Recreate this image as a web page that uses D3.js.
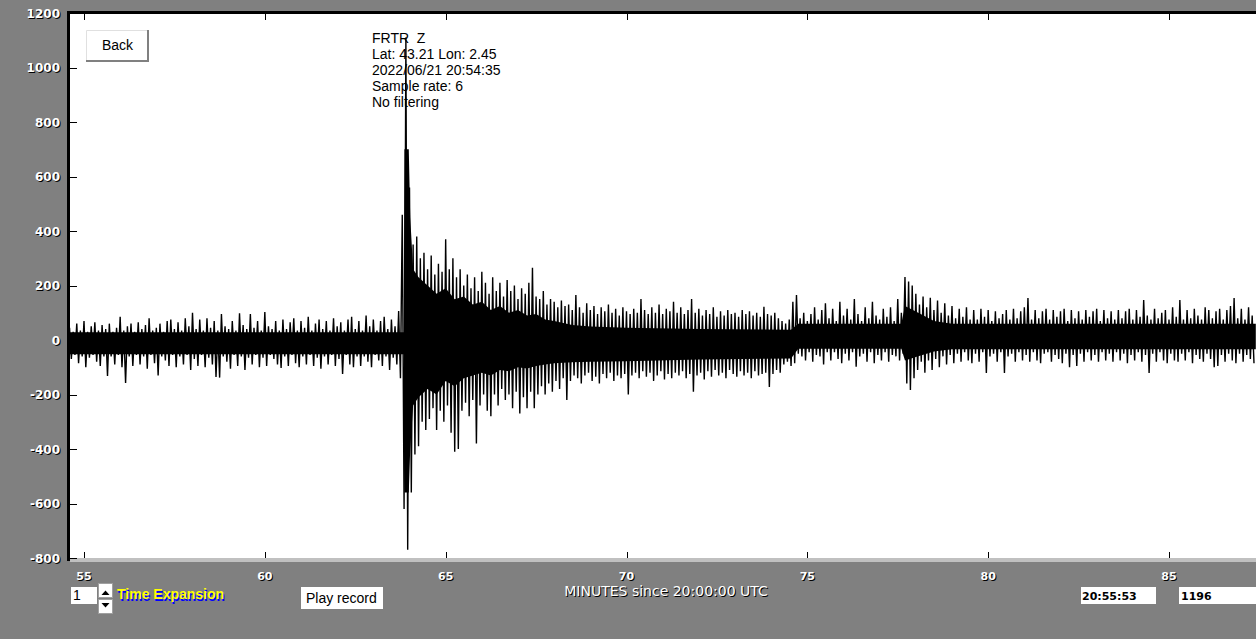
<!DOCTYPE html>
<html><head><meta charset="utf-8">
<script src="https://cdn.jsdelivr.net/npm/d3@7"></script>
<style>
html,body{margin:0;padding:0;background:#808080;overflow:hidden}
svg{display:block}
text{white-space:pre}
</style></head><body>
<svg id="c" width="1256" height="639"></svg>
<script>
// ---- data ----
const yTickValues = [-800,-600,-400,-200,0,200,400,600,800,1000,1200];
const xTickValues = [55,60,65,70,75,80,85];
const xAxisTitle = "MINUTES since 20:00:00 UTC";
const stationInfo = ["FRTR  Z","Lat: 43.21 Lon: 2.45","2022/06/21 20:54:35","Sample rate: 6","No filtering"];
const timeExpansionValue = "1";
const clockText = "20:55:53";
const counterText = "1196";
const traceStartMinute = 54.6;   // minutes since 20:00:00 of the first bin
const binMinutes = 0.1;          // width of each peak bin
// per-bin positive peaks (counts)
const peakHigh = [
 45,30,60,35,70,30,50,65,35,55,
 40,60,30,45,85,35,50,60,30,65,
 40,55,80,35,45,60,30,70,75,40,
 65,35,80,50,100,40,75,35,80,45,
 70,35,95,50,40,70,35,98,55,40,
 95,45,70,35,103,50,40,70,35,75,
 40,65,80,35,70,45,85,35,60,75,
 40,70,35,80,50,65,35,75,85,40,
 70,35,90,50,75,35,70,85,40,75,
 50,106,460,1110,560,350,380,300,320,260,
 310,240,280,250,370,260,300,230,260,200,
 240,190,230,180,250,210,170,230,180,210,
 160,220,180,200,150,190,170,210,265,160,
 150,180,130,150,140,120,145,125,130,110,
 165,120,100,135,110,125,95,120,105,130,
 100,115,90,120,105,95,115,100,150,110,
 95,120,100,130,95,115,105,140,100,120,
 95,110,150,100,115,90,110,95,120,85,
 105,90,110,95,100,85,110,95,105,90,
 100,85,122,95,90,100,80,70,60,75,
 140,165,80,100,70,95,120,75,110,135,
 80,115,70,140,90,115,75,150,95,70,
 120,80,140,90,75,115,85,120,70,150,
 100,231,215,200,170,130,160,120,155,110,
 145,100,135,90,125,80,115,85,120,75,
 110,75,115,85,110,70,105,80,95,110,
 75,115,80,105,120,154,75,110,80,105,
 115,75,110,85,105,115,70,110,80,105,
 75,110,85,105,115,70,110,80,105,75,
 110,80,105,115,75,110,85,147,90,75,
 115,80,100,110,75,120,85,147,75,110,
 80,115,90,75,120,110,80,105,115,75,
 110,125,154,80,115,75,120,90
];
// per-bin negative peaks (counts)
const peakLow = [
 -70,-55,-85,-60,-100,-65,-55,-80,-95,-60,
 -132,-60,-90,-55,-100,-158,-60,-95,-55,-90,
 -60,-105,-55,-85,-130,-60,-75,-95,-55,-100,
 -60,-90,-55,-110,-70,-95,-55,-100,-65,-90,
 -136,-138,-60,-80,-105,-55,-95,-60,-110,-65,
 -90,-55,-100,-65,-95,-55,-70,-90,-103,-60,
 -95,-55,-85,-100,-60,-90,-55,-95,-65,-105,
 -60,-90,-55,-95,-70,-125,-55,-90,-100,-60,
 -95,-60,-80,-100,-55,-75,-95,-60,-110,-65,
 -90,-140,-620,-770,-560,-420,-390,-300,-330,-290,
 -250,-330,-260,-300,-240,-340,-410,-400,-260,-230,
 -280,-220,-380,-240,-200,-260,-280,-200,-240,-180,
 -220,-200,-250,-190,-270,-210,-250,-190,-250,-200,
 -170,-200,-160,-190,-150,-180,-140,-220,-150,-130,
 -140,-160,-130,-120,-150,-135,-160,-125,-140,-120,
 -150,-130,-140,-125,-200,-130,-120,-140,-115,-135,
 -120,-150,-130,-115,-145,-125,-140,-120,-130,-115,
 -140,-125,-190,-130,-120,-145,-115,-135,-110,-130,
 -120,-140,-110,-125,-135,-115,-130,-120,-140,-115,
 -130,-125,-120,-172,-125,-110,-120,-90,-80,-95,
 -85,-50,-60,-75,-45,-80,-55,-60,-90,-45,
 -75,-45,-70,-85,-50,-75,-45,-98,-60,-50,
 -80,-45,-85,-55,-75,-45,-80,-55,-60,-75,
 -50,-160,-183,-140,-110,-80,-120,-75,-110,-70,
 -100,-60,-90,-55,-85,-50,-80,-45,-75,-85,
 -50,-80,-45,-121,-60,-50,-80,-45,-121,-60,
 -50,-80,-45,-75,-55,-80,-45,-75,-85,-50,
 -45,-80,-55,-70,-85,-50,-100,-55,-95,-50,
 -80,-45,-75,-55,-80,-45,-75,-50,-80,-45,
 -75,-50,-85,-55,-75,-45,-80,-55,-121,-50,
 -80,-45,-75,-85,-50,-75,-80,-50,-75,-45,
 -85,-55,-70,-80,-50,-70,-100,-95,-55,-80,
 -50,-75,-85,-50,-80,-55,-70,-85
];
// solid (saturated) body of the trace, read at a few times
const coreMinutes = [54.6, 63.84, 63.86, 63.98, 64.02, 64.1, 64.25, 64.5, 64.75, 65.0, 65.25, 65.5, 65.75, 66.0, 66.25, 66.5, 66.75, 67.0, 67.25, 67.5, 67.75, 68.0, 68.5, 69.0, 70.0, 72.0, 74.55, 74.75, 77.6, 77.7, 78.0, 78.5, 79.0, 87.4];
const coreHigh    = [28,   28,    700,   700,   450,   260,  230,   200,  170,   190,  150,   160,  130,   140,  110,   125,  100,   110,  90,    95,   75,    70,   55,   50,   45,   40,   38,    60,    60,   125,  105,  70,   60,   60];
const coreLow     = [-52,  -52,   -560,  -560,  -400,  -240, -210,  -180, -200,  -150, -170,  -140, -130,  -120, -130,  -110, -115,  -100, -105,  -95,  -90,   -85,  -82,  -80,  -78,  -72,  -68,   -32,   -32,  -75,  -62,  -42,  -34,  -34];

// ---- drawing ----
const svg = d3.select("#c");
const W = 1256, H = 639;
const plot = {left:70, top:14, right:1256, bottom:558};

const x = d3.scaleLinear().domain([55,85]).range([84,1169]);
const y = d3.scaleLinear().domain([-800,1200]).range([558,13]);

svg.append("rect").attr("width",W).attr("height",H).attr("fill","#808080");

// plot frame
svg.append("rect").attr("x",plot.left).attr("y",plot.top)
  .attr("width",plot.right-plot.left).attr("height",plot.bottom-plot.top).attr("fill","#ffffff");
svg.append("rect").attr("x",67).attr("y",11).attr("width",W-67).attr("height",3).attr("fill","#000");
svg.append("rect").attr("x",67).attr("y",11).attr("width",3).attr("height",550).attr("fill","#000");
svg.append("rect").attr("x",70).attr("y",558).attr("width",W-70).attr("height",4).attr("fill","#c0c0c0");

svg.append("defs").append("clipPath").attr("id","clip").append("rect")
  .attr("x",plot.left).attr("y",plot.top).attr("width",plot.right-plot.left).attr("height",plot.bottom-plot.top);

// ticks via d3 axes
function styleAxis(g){
  g.select(".domain").remove();
  g.selectAll(".tick line").attr("stroke","#000").attr("shape-rendering","crispEdges");
  g.selectAll(".tick text").remove();
}
svg.append("g").attr("transform",`translate(${plot.left},0)`)
  .call(d3.axisLeft(y).tickValues(yTickValues).tickSize(-7).tickFormat("")).call(styleAxis);
svg.append("g").attr("transform",`translate(0,${plot.bottom})`)
  .call(d3.axisBottom(x).tickValues(xTickValues).tickSize(-6).tickFormat("")).call(styleAxis);
svg.append("g").attr("transform",`translate(0,${plot.top})`)
  .call(d3.axisTop(x).tickValues(xTickValues).tickSize(-6).tickFormat("")).call(styleAxis);

// shadowed text helper
function shadowText(px, py, str, opts){
  const o = Object.assign({anchor:"start", fill:"#fff", shadow:"#000", font:"DejaVu Sans", size:12, weight:"bold", dx:1, dy:1}, opts||{});
  const g = svg.append("g");
  [[o.dx,o.dy,o.shadow],[0,0,o.fill]].forEach(([ox,oy,c])=>{
    g.append("text").attr("x",px+ox).attr("y",py+oy).attr("text-anchor",o.anchor)
      .attr("font-family",o.font).attr("font-size",o.size).attr("font-weight",o.weight)
      .attr("fill",c).text(str);
  });
}

// y labels
yTickValues.forEach(v=>shadowText(60, y(v)+4.5, String(v), {anchor:"end", size:12}));
// x labels
xTickValues.forEach(v=>shadowText(x(v), 580, String(v), {anchor:"middle", size:11}));
shadowText(666, 596, xAxisTitle, {anchor:"middle", size:14, weight:"normal"});

// waveform body
const coreData = coreMinutes.map((m,i)=>({m, hi:coreHigh[i], lo:coreLow[i]}));
svg.append("path").attr("clip-path","url(#clip)")
  .attr("d", d3.area().x(d=>x(d.m)).y0(d=>y(d.lo)).y1(d=>y(d.hi))(coreData))
  .attr("fill","#000");

// waveform: alternating positive / negative peaks per bin
const tracePts = [];
peakHigh.forEach((hv,i)=>{
  const t = traceStartMinute + i*binMinutes;
  tracePts.push([t, hv]);
  tracePts.push([t + binMinutes/2, peakLow[i]]);
});
svg.append("path").attr("clip-path","url(#clip)")
  .attr("d", d3.line().x(d=>x(d[0])).y(d=>y(d[1]))(tracePts))
  .attr("fill","none").attr("stroke","#000").attr("stroke-width",1.4).attr("stroke-linejoin","miter");

// station info
stationInfo.forEach((s,i)=>{
  svg.append("text").attr("x",372).attr("y",43+i*16)
    .attr("font-family","Liberation Sans, Arial, sans-serif").attr("font-size",14).attr("fill","#000").text(s);
});

// Back button
svg.append("rect").attr("x",86).attr("y",30).attr("width",63).attr("height",32).attr("fill","#fff");
svg.append("path").attr("d","M86.5,61.5V30.5H148.5").attr("stroke","#e0e0e0").attr("fill","none");
svg.append("path").attr("d","M148,30V61H86").attr("stroke","#808080").attr("stroke-width",2).attr("fill","none");
svg.append("text").attr("x",117.5).attr("y",50).attr("text-anchor","middle")
  .attr("font-family","Liberation Sans, Arial, sans-serif").attr("font-size",14).attr("fill","#000").text("Back");

// bottom controls
svg.append("rect").attr("x",71).attr("y",587).attr("width",26).attr("height",17).attr("fill","#fff");
svg.append("text").attr("x",73).attr("y",600).attr("font-family","Liberation Sans, Arial, sans-serif")
  .attr("font-size",14).attr("fill","#000").text(timeExpansionValue);
[[583,"M101.5,595 L105.5,590.5 L109.5,595 Z"],[599,"M101.5,603 L105.5,607.5 L109.5,603 Z"]].forEach(([yy,d])=>{
  svg.append("rect").attr("x",98.5).attr("y",yy+0.5).attr("width",14).attr("height",14)
    .attr("fill","#fff").attr("stroke","#a0a0a0");
  svg.append("path").attr("d",d).attr("fill","#000");
});
shadowText(117, 599, "Time Expansion", {font:"Liberation Sans", size:14, weight:"bold", fill:"#ffff00", shadow:"#0000ff", dx:1, dy:2});

svg.append("rect").attr("x",301).attr("y",587).attr("width",82).attr("height",22).attr("fill","#fff");
svg.append("text").attr("x",306).attr("y",603).attr("font-family","Liberation Sans, Arial, sans-serif")
  .attr("font-size",14).attr("fill","#000").text("Play record");

svg.append("rect").attr("x",1081).attr("y",587).attr("width",75).attr("height",17).attr("fill","#fff");
svg.append("text").attr("x",1082).attr("y",600).attr("font-family","DejaVu Sans").attr("font-weight","bold")
  .attr("font-size",11).attr("fill","#000").text(clockText);
svg.append("rect").attr("x",1179).attr("y",587).attr("width",77).attr("height",17).attr("fill","#fff");
svg.append("text").attr("x",1181).attr("y",600).attr("font-family","DejaVu Sans").attr("font-weight","bold")
  .attr("font-size",11).attr("fill","#000").text(counterText);
</script>
</body></html>
